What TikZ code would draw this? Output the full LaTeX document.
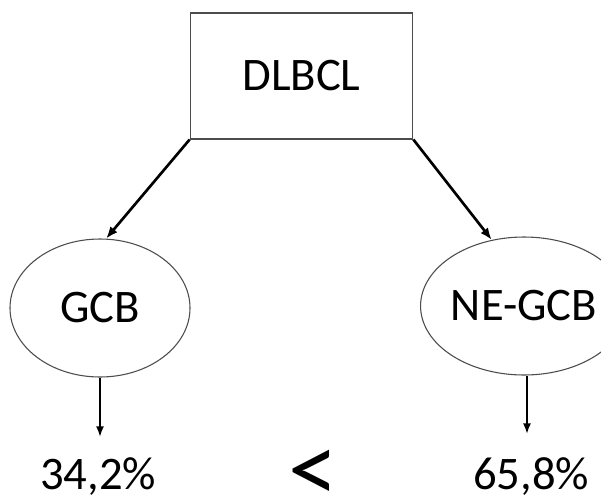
\documentclass[tikz,border=0pt]{standalone}
\usepackage{fontspec}
\setmainfont{Carlito}
\usetikzlibrary{arrows.meta,shapes.geometric}
\tikzset{
  lbl/.style={font=\fontsize{35pt}{40pt}\selectfont, text=black},
  boxnode/.style={draw=black!70, line width=0.8pt, minimum width=167pt, minimum height=94.5pt, inner sep=0pt, lbl},
  ellnode/.style={ellipse, draw=black!70, line width=0.8pt, minimum width=135pt, minimum height=103.5pt, inner sep=0pt, lbl},
  bigarrow/.style={line width=2pt, -{Latex[length=9pt,width=7pt]}},
  downarrow/.style={line width=1.3pt, -{Latex[length=8pt,width=6pt]}},
  pct/.style={lbl, anchor=base, inner sep=0pt}
}
\begin{document}
\begin{tikzpicture}[x=0.75pt,y=-0.75pt]
\fill[white] (0,0) rectangle (601,497);
\clip (0,0) rectangle (601,497);
\useasboundingbox (0,0) rectangle (601,497);
\node[boxnode] (dl) at (301.5,76) {DLBCL};
\node[ellnode] (gcb) at (100,308) {GCB};
\node[ellnode, minimum width=139pt] (ne) at (524,306) {NE-GCB};
\node[pct] (p1) at (98,489) {34,2\%};
\node[lbl, inner sep=0pt, font=\fontsize{75pt}{80pt}\selectfont] (lt) at (313,476) {<};
\node[pct] (p2) at (531,489) {65,8\%};
\coordinate (e1) at (100,437);
\coordinate (e2) at (527,434);
\draw[bigarrow] (dl.south west) -- (gcb.85);
\draw[bigarrow] (dl.south east) -- (ne.116);
\draw[downarrow] (gcb.south) -- (e1);
\draw[downarrow] (ne.south -| e2) -- (e2);
\end{tikzpicture}
\end{document}
